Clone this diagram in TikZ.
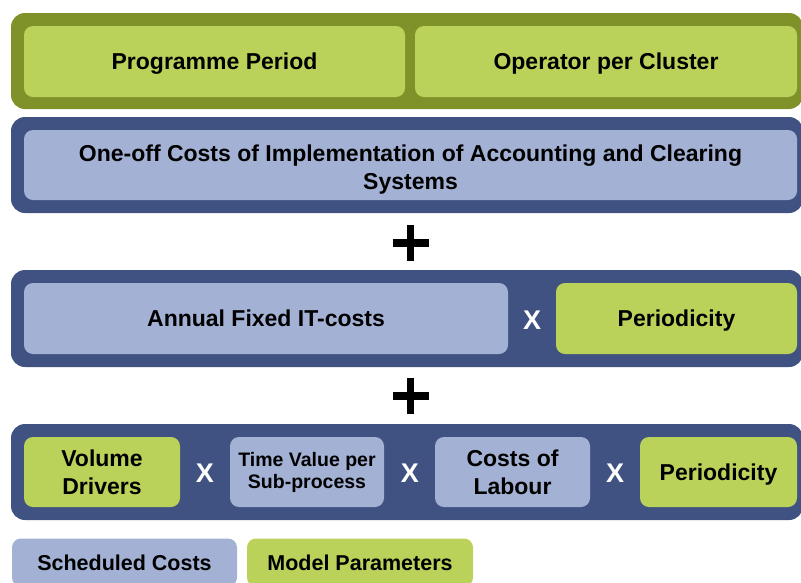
\documentclass[tikz,border=0pt]{standalone}
\usepackage{fontspec}
\setmainfont{Liberation Sans}
\definecolor{frameGreen}{HTML}{7F9129}
\definecolor{frameBlue}{HTML}{3F5281}
\definecolor{paramGreen}{HTML}{BBD25A}
\definecolor{costBlue}{HTML}{A3B1D4}
\begin{document}
\begin{tikzpicture}[x=1pt,y=-1pt]
        \tikzstyle{every node}=[font=\bfseries\fontsize{23}{28}\selectfont, align=center, inner sep=0pt];
        \tikzstyle{frame}=[rounded corners=14pt];
        \tikzstyle{oneline}=[text height=16.5pt, text depth=0pt];
        \tikzstyle{param}=[rectangle, rounded corners=9pt, fill=paramGreen, minimum height=71pt];
        \tikzstyle{cost}=[rectangle, rounded corners=9pt, fill=costBlue, minimum height=71pt];
        \tikzstyle{times}=[text=white, font=\bfseries\fontsize{27}{30}\selectfont, oneline];
        \tikzstyle{legend}=[rectangle, rounded corners=9pt, minimum height=48pt, font=\bfseries\fontsize{21.5}{26}\selectfont, text height=15.5pt, text depth=0pt];
        \useasboundingbox (0,0) rectangle (801,582);
        % frames
        \fill[frameGreen, frame] (11,13) rectangle (803,109);
        \fill[frameBlue, frame] (11,117) rectangle (803,213);
        \fill[frameBlue, frame] (11,270) rectangle (803,367);
        \fill[frameBlue, frame] (11,424) rectangle (803,520);
        % first row
        \node (period) [param, oneline, minimum width=381pt] at (214.5,61.5) {Programme Period};
        \node (operator) [param, oneline, minimum width=382pt] at (606,61.5) {Operator per Cluster};
        % one-off costs
        \node (oneoff) [cost, minimum width=773pt, minimum height=70pt, text height=48pt, text depth=0pt] at (410.5,165) {One-off Costs of Implementation of Accounting and Clearing\\Systems};
        \coordinate (plus1) at (410.5,243);
        \draw[line width=7.5pt] (plus1) ++(-18,0) -- ++(36,0) (plus1) ++(0,-18) -- ++(0,36);
        % fixed costs
        \node (fixed) [cost, oneline, minimum width=484pt] at (266,318.5) {Annual Fixed IT-costs};
        \node (x1) [times] at (532,321) {X};
        \node (per1) [param, oneline, minimum width=241pt] at (676.5,318.5) {Periodicity};
        \coordinate (plus2) at (410.5,396);
        \draw[line width=7.5pt] (plus2) ++(-18,0) -- ++(36,0) (plus2) ++(0,-18) -- ++(0,36);
        % variable costs
        \node (volume) [param, minimum width=156pt, minimum height=70pt] at (102,472) {Volume\\Drivers};
        \node (x2) [times] at (205,474) {X};
        \node (time) [cost, minimum width=154pt, minimum height=70pt, font=\bfseries\fontsize{19.5}{22}\selectfont] at (307,472) {Time Value per\\Sub-process};
        \node (x3) [times] at (410,474) {X};
        \node (labour) [cost, minimum width=155pt, minimum height=70pt] at (512.5,472) {Costs of\\Labour};
        \node (x4) [times] at (615,474) {X};
        \node (per2) [param, oneline, minimum width=157pt, minimum height=70pt] at (718.5,472) {Periodicity};
        % legend
        \node (sched) [legend, fill=costBlue, minimum width=225pt] at (124.5,562.5) {Scheduled Costs};
        \node (model) [legend, fill=paramGreen, minimum width=226pt] at (360,562.5) {Model Parameters};
\end{tikzpicture}
\end{document}
